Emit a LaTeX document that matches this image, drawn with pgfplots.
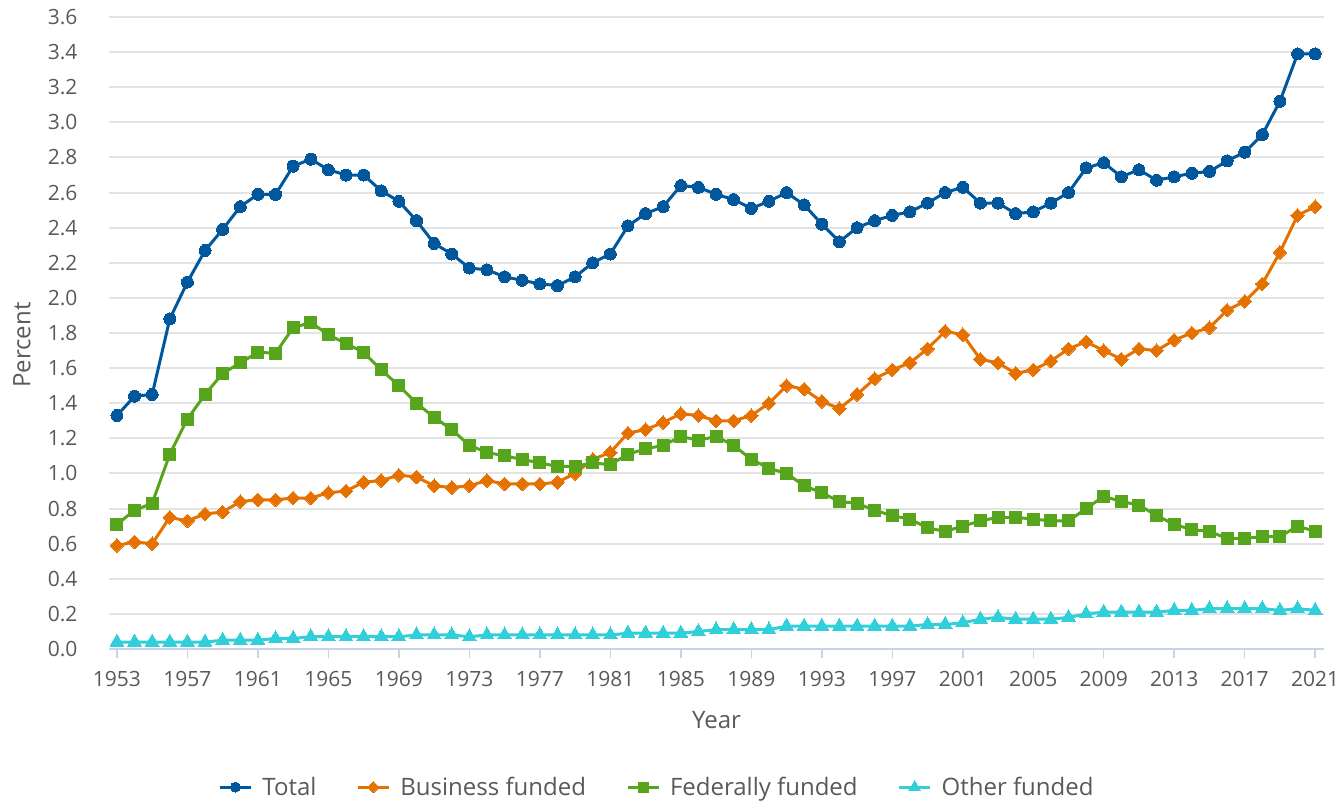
\documentclass[border=0pt]{standalone}
\usepackage{fontspec}
\setmainfont{Open Sans}
\usepackage{pgfplots}
\usepackage{pgfplotstable}
\pgfplotsset{compat=1.18}
\definecolor{cTotal}{HTML}{00579B}
\definecolor{cBus}{HTML}{E57200}
\definecolor{cFed}{HTML}{57A51C}
\definecolor{cOth}{HTML}{30CFD9}
\definecolor{txt}{HTML}{595959}
\definecolor{gridc}{HTML}{E3E3E3}
\definecolor{axc}{HTML}{C9D3E6}

\pgfplotstableread{
year total bus fed oth
1953 1.33 0.59 0.71 0.04
1954 1.44 0.61 0.79 0.04
1955 1.45 0.60 0.83 0.04
1956 1.88 0.75 1.11 0.04
1957 2.09 0.73 1.31 0.04
1958 2.27 0.77 1.45 0.04
1959 2.39 0.78 1.57 0.05
1960 2.52 0.84 1.63 0.05
1961 2.59 0.85 1.69 0.05
1962 2.59 0.85 1.685 0.06
1963 2.75 0.86 1.83 0.06
1964 2.79 0.86 1.86 0.07
1965 2.73 0.89 1.79 0.07
1966 2.70 0.90 1.74 0.07
1967 2.70 0.95 1.69 0.07
1968 2.61 0.96 1.59 0.07
1969 2.55 0.99 1.50 0.07
1970 2.44 0.98 1.40 0.08
1971 2.31 0.93 1.32 0.08
1972 2.25 0.92 1.25 0.08
1973 2.17 0.93 1.16 0.07
1974 2.16 0.96 1.12 0.08
1975 2.12 0.94 1.10 0.08
1976 2.10 0.94 1.08 0.08
1977 2.08 0.94 1.06 0.08
1978 2.07 0.95 1.04 0.08
1979 2.12 1.00 1.04 0.08
1980 2.20 1.08 1.06 0.08
1981 2.25 1.12 1.05 0.08
1982 2.41 1.23 1.11 0.09
1983 2.48 1.25 1.14 0.09
1984 2.52 1.29 1.16 0.09
1985 2.64 1.34 1.21 0.09
1986 2.63 1.33 1.19 0.10
1987 2.59 1.30 1.21 0.11
1988 2.56 1.30 1.16 0.11
1989 2.51 1.33 1.08 0.11
1990 2.55 1.40 1.03 0.11
1991 2.60 1.50 1.00 0.13
1992 2.53 1.48 0.93 0.13
1993 2.42 1.41 0.89 0.13
1994 2.32 1.37 0.84 0.13
1995 2.40 1.45 0.83 0.13
1996 2.44 1.54 0.79 0.13
1997 2.47 1.59 0.76 0.13
1998 2.49 1.63 0.74 0.13
1999 2.54 1.71 0.69 0.14
2000 2.60 1.81 0.67 0.14
2001 2.63 1.79 0.70 0.15
2002 2.54 1.65 0.73 0.17
2003 2.54 1.63 0.75 0.18
2004 2.48 1.57 0.75 0.17
2005 2.49 1.59 0.74 0.17
2006 2.54 1.64 0.73 0.17
2007 2.60 1.71 0.73 0.18
2008 2.74 1.75 0.80 0.20
2009 2.77 1.70 0.87 0.21
2010 2.69 1.65 0.84 0.21
2011 2.73 1.71 0.82 0.21
2012 2.67 1.70 0.76 0.21
2013 2.69 1.76 0.71 0.22
2014 2.71 1.80 0.68 0.22
2015 2.72 1.83 0.67 0.23
2016 2.78 1.93 0.63 0.23
2017 2.83 1.98 0.63 0.23
2018 2.93 2.08 0.64 0.23
2019 3.12 2.26 0.64 0.22
2020 3.39 2.47 0.70 0.23
2021 3.39 2.52 0.67 0.22
}\data

\begin{document}
\begin{tikzpicture}
\begin{axis}[
  scale only axis, width=1215pt, height=632pt,
  xmin=1952.55, xmax=2021.5, ymin=0, ymax=3.6,
  axis x line*=bottom, axis y line*=left,
  x axis line style={draw=axc, line width=2pt, -},
  y axis line style={draw=none},
  xtick={1953,1957,...,2021},
  ytick={0,0.2,0.4,0.6,0.8,1.0,1.2,1.4,1.6,1.8,2.0,2.2,2.4,2.6,2.8,3.0,3.2,3.4,3.6},
  tick align=outside,
  major tick length=9pt,
  xtick style={draw=axc, line width=1.5pt},
  ytick style={draw=none},
  ymajorgrids, grid style={draw=gridc, line width=2pt},
  ticklabel style={font=\fontsize{21}{25}\selectfont, text=txt},
  xticklabel style={/pgf/number format/1000 sep={}, yshift=-10pt},
  yticklabel style={/pgf/number format/fixed, /pgf/number format/fixed zerofill, /pgf/number format/precision=1, xshift=-19pt},
  /pgf/number format/assume math mode=true,
  xlabel={Year}, ylabel={Percent},
  label style={font=\fontsize{24}{28}\selectfont, text=txt},
  xlabel style={at={(axis description cs:0.5,-0.1123)}, anchor=center},
  ylabel style={at={(axis description cs:-0.0716,0.481)}, anchor=center},
  legend columns=4,
  legend style={at={(axis description cs:0.451,-0.2184)}, anchor=center, draw=none, fill=none,
    font=\fontsize{24}{28}\selectfont, text=txt,
    /tikz/every even column/.append style={column sep=38pt},
    /tikz/every odd column/.append style={column sep=8pt}},
  legend image code/.code={\draw[mark repeat=2,mark phase=2,every mark/.append style={scale=0.83}] plot coordinates {(0pt,0pt) (15.5pt,0pt) (31pt,0pt)};},
]
\addplot[color=cTotal, line width=3pt, mark=*, mark size=6pt, mark options={solid, line width=0pt}] table[x=year,y=total]{\data};
\addlegendentry{Total}
\addplot[color=cBus, line width=3pt, mark=square*, mark size=4.8pt, mark options={solid, rotate=45, line width=0pt}] table[x=year,y=bus]{\data};
\addlegendentry{Business funded}
\addplot[color=cFed, line width=3pt, mark=square*, mark size=6pt, mark options={solid, line width=0pt}] table[x=year,y=fed]{\data};
\addlegendentry{Federally funded}
\addplot[color=cOth, line width=3pt, mark=triangle*, mark size=8pt, mark options={solid, line width=0pt}] table[x=year,y=oth]{\data};
\addlegendentry{Other funded}
\end{axis}
\pgfresetboundingbox
\path[use as bounding box] ([xshift=-109pt,yshift=-155pt]current axis.south west) rectangle ([xshift=18pt,yshift=17pt]current axis.north east);
\end{tikzpicture}
\end{document}
